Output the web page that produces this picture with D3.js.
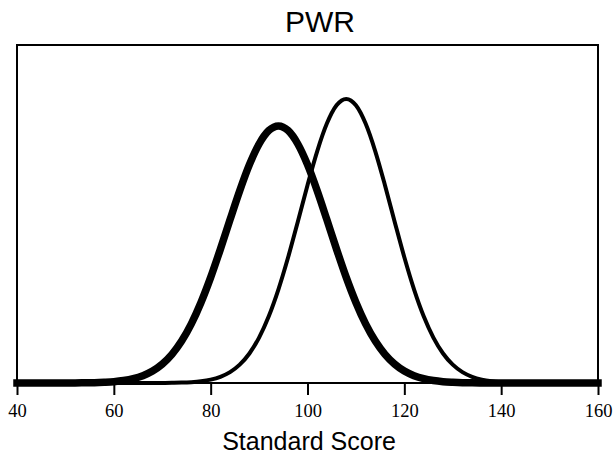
<!DOCTYPE html>
<html>
<head>
<meta charset="utf-8">
<script src="https://cdn.jsdelivr.net/npm/d3@7"></script>
<style>
  body { margin: 0; background: #fff; }
  svg { display: block; }
</style>
</head>
<body>
<svg></svg>
<script>
// scores (axe x) lus sur le graphique, pas de 2
var scores = [40, 42, 44, 46, 48, 50, 52, 54, 56, 58,
  60, 62, 64, 66, 68, 70, 72, 74, 76, 78,
  80, 82, 84, 86, 88, 90, 92, 94, 96, 98,
  100, 102, 104, 106, 108, 110, 112, 114, 116, 118,
  120, 122, 124, 126, 128, 130, 132, 134, 136, 138,
  140, 142, 144, 146, 148, 150, 152, 154, 156, 158, 160]

// courbe epaisse (sommet vers 94)
var courbeEpaisse = [0, 0, 0, 0, 0, 0.00001, 0.00001, 0.00003, 0.00005, 0.00011,
  0.00020, 0.00037, 0.00065, 0.00110, 0.00179, 0.00282, 0.00428, 0.00626, 0.00883, 0.01203,
  0.01578, 0.01999, 0.02440, 0.02873, 0.03262, 0.03571, 0.03771, 0.03840, 0.03771, 0.03571,
  0.03262, 0.02873, 0.02440, 0.01999, 0.01578, 0.01203, 0.00883, 0.00626, 0.00428, 0.00282,
  0.00179, 0.00110, 0.00065, 0.00037, 0.00020, 0.00011, 0.00005, 0.00003, 0.00001, 0,
  0, 0, 0, 0, 0, 0, 0, 0, 0, 0, 0]

// courbe fine (sommet vers 108)
var courbeFine = [0, 0, 0, 0, 0, 0, 0, 0, 0, 0,
  0, 0, 0, 0, 0.000005, 0.00001, 0.00003, 0.00006, 0.00013, 0.00026,
  0.00050, 0.00093, 0.00163, 0.00274, 0.00441, 0.00679, 0.00997, 0.01400, 0.01879, 0.02410,
  0.02955, 0.03462, 0.03876, 0.04149, 0.04244, 0.04149, 0.03876, 0.03462, 0.02955, 0.02410,
  0.01879, 0.01400, 0.00997, 0.00679, 0.00441, 0.00274, 0.00163, 0.00093, 0.00050, 0.00026,
  0.00013, 0.00006, 0.00003, 0.00001, 0, 0, 0, 0, 0, 0, 0]

var graduations = [40, 60, 80, 100, 120, 140, 160]
var titre = "PWR"
var titreAxe = "Standard Score"

var canevas = d3.select("svg")
  .attr("width", 616)
  .attr("height", 454)

var x = d3.scaleLinear().domain([40, 160]).range([17, 598])
var y = d3.scaleLinear().domain([0, 0.0505]).range([383, 45])

// cadre
canevas.append("rect")
  .attr("x", x(40))
  .attr("y", y(0.0505))
  .attr("width", x(160) - x(40))
  .attr("height", y(0) - y(0.0505))
  .attr("style", "fill:none;stroke:black;stroke-width:2")

// axe du bas
var axe = canevas.append("g")
  .attr("transform", "translate(0," + y(0) + ")")
  .call(d3.axisBottom(x)
    .tickValues(graduations)
    .tickSize(12)
    .tickSizeOuter(0)
    .tickPadding(9))
axe.select(".domain").remove()
axe.selectAll("line").attr("stroke", "black").attr("stroke-width", 2)
axe.selectAll("text")
  .attr("fill", "black")
  .style("font-family", "'Liberation Serif', 'DejaVu Serif', serif")
  .style("font-size", "18.5px")

var ligne = d3.line()
  .x(function(d, i){ return x(scores[i]) })
  .y(function(d){ return y(d) })
  .curve(d3.curveMonotoneX)

canevas.append("path")
  .datum(courbeFine)
  .attr("d", ligne)
  .attr("style", "fill:none;stroke:black;stroke-width:4;stroke-linejoin:round")

canevas.append("path")
  .datum(courbeEpaisse)
  .attr("d", ligne)
  .attr("style", "fill:none;stroke:black;stroke-width:7.5;stroke-linejoin:round;stroke-linecap:square")

// titres
canevas.append("text")
  .text(titre)
  .attr("x", 320)
  .attr("y", 32)
  .attr("text-anchor", "middle")
  .attr("fill", "black")
  .style("font-family", "'Liberation Sans', Arial, sans-serif")
  .style("font-size", "30px")

canevas.append("text")
  .text(titreAxe)
  .attr("x", 309)
  .attr("y", 450)
  .attr("text-anchor", "middle")
  .attr("fill", "black")
  .style("font-family", "'Liberation Sans', Arial, sans-serif")
  .style("font-size", "25px")
</script>
</body>
</html>
